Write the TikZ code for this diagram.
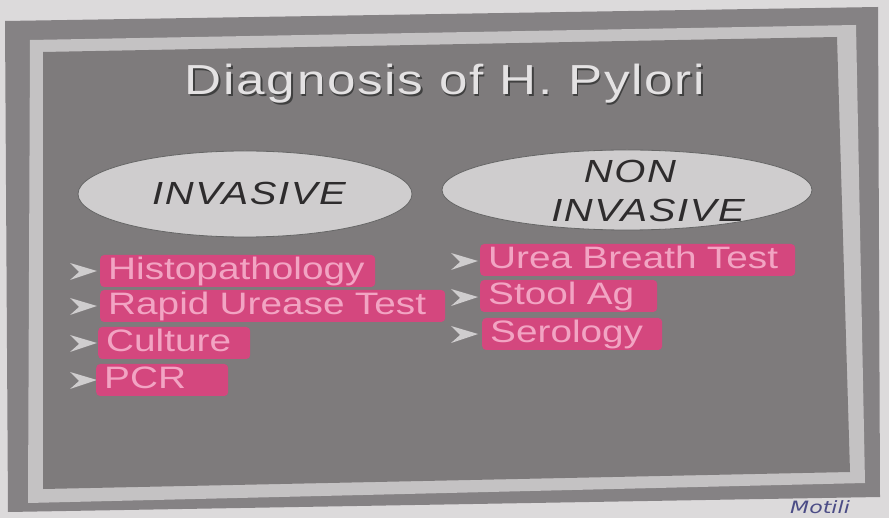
\documentclass[tikz,border=0pt]{standalone}
\usepackage{fontspec}
\usetikzlibrary{shapes.geometric}
\newfontfamily\slidefont[FakeStretch=1.25]{Liberation Sans}
\newfontfamily\headfont[FakeStretch=1.22,LetterSpace=4]{Liberation Sans}
\newfontfamily\ovalfont[FakeStretch=1.25,LetterSpace=5]{Liberation Sans}
\newfontfamily\handfont[FakeStretch=1.3]{DejaVu Sans}
\definecolor{paper}{HTML}{DCDADB}
\definecolor{frameband}{HTML}{858284}
\definecolor{strip}{HTML}{C4C2C3}
\definecolor{panel}{HTML}{7E7B7C}
\definecolor{ovalfill}{HTML}{CFCDCE}
\definecolor{ovaltext}{HTML}{2E2C2D}
\definecolor{hl}{HTML}{D4477E}
\definecolor{hltext}{HTML}{F2A4C3}
\definecolor{titletext}{HTML}{E4E2E3}
\definecolor{bulletc}{HTML}{CFCDCE}
\definecolor{pen}{HTML}{4B4C86}
\tikzset{
  oval/.style={ellipse, fill=ovalfill, draw=black!60, line width=0.8pt},
  ovallabel/.style={font=\ovalfont\itshape\fontsize{32}{34}\selectfont, text=ovaltext, anchor=base},
  item/.style={anchor=base west, fill=hl, rounded corners=4pt, text=hltext,
    font=\slidefont\fontsize{31}{33}\selectfont, inner xsep=8pt, inner ysep=1pt,
    text height=24pt, text depth=6pt, align=left},
  bullet/.style={fill=bulletc}
}
\begin{document}
\begin{tikzpicture}[x=1pt,y=-1pt,every node/.style={inner sep=0pt}]
\useasboundingbox (0,0) rectangle (889,518);
\fill[paper] (0,0) rectangle (889,518);
% photocopied slide frame
\fill[frameband] (5,21) -- (878,7) -- (880,497) -- (8,512) -- cycle;
\fill[strip] (30,40) -- (856,25) -- (865,483) -- (28,503) -- cycle;
\fill[panel] (43,52) -- (837,37) -- (850,472) -- (43,489) -- cycle;
% title
\node[anchor=base, text=black!75, font=\headfont\fontsize{42}{44}\selectfont] (titleshadow) at (446.5,96.5) {Diagnosis of H. Pylori};
\node[anchor=base, text=titletext, font=\headfont\fontsize{42}{44}\selectfont] (title) at (445,95) {Diagnosis of H. Pylori};
% ovals
\node[oval, minimum width=334pt, minimum height=86pt] (inv) at (245,194) {};
\node[oval, minimum width=370pt, minimum height=80pt] (noninv) at (627,190) {};
\node[ovallabel] (invlabel) at (249,205) {INVASIVE};
\node[ovallabel] (nonlabel) at (630,183) {NON};
\node[ovallabel] (nonlabelb) at (648,222) {INVASIVE};
% bullets
\foreach \y [count=\i] in {272,307,344,381}{
  \fill[bullet] (70,\y-9) -- (97,\y-1) -- (70,\y+8) -- (79,\y) -- cycle;
}
\foreach \y [count=\i] in {262,298,335}{
  \fill[bullet] (451,\y-9) -- (478,\y-1) -- (451,\y+8) -- (460,\y) -- cycle;
}
% invasive items
\node[item, text width=259pt] (histo) at (100,280) {Histopathology};
\node[item, text width=329pt] (rut) at (100,315) {Rapid Urease Test};
\node[item, text width=136pt] (culture) at (98,352) {Culture};
\node[item, text width=116pt] (pcr) at (96,389) {PCR};
% non invasive items
\node[item, text width=299pt] (ubt) at (480,269) {Urea Breath Test};
\node[item, text width=161pt] (stool) at (480,305) {Stool Ag};
\node[item, text width=164pt] (sero) at (482,343) {Serology};
% handwriting at the bottom edge
\node[anchor=base west, text=pen, font=\handfont\itshape\fontsize{17}{19}\selectfont] (note) at (790,513) {Motili};
\end{tikzpicture}
\end{document}
